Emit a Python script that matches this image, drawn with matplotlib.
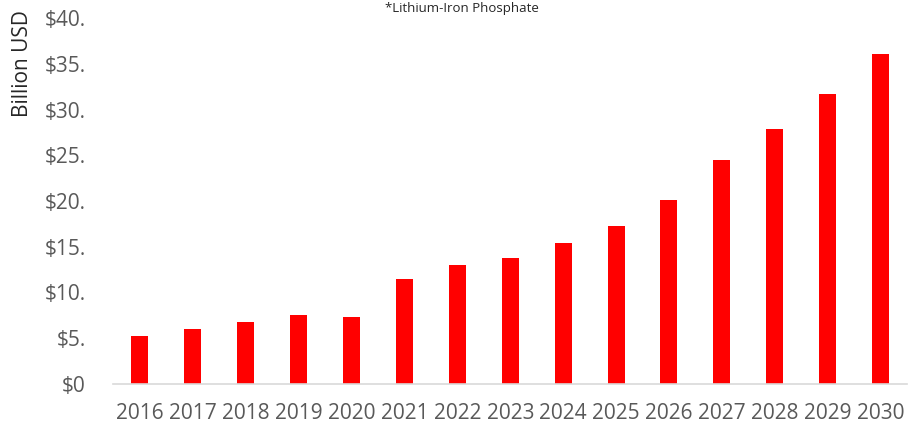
import matplotlib.pyplot as plt

years = ["2016", "2017", "2018", "2019", "2020", "2021", "2022", "2023",
         "2024", "2025", "2026", "2027", "2028", "2029", "2030"]
market = [5.2, 6.0, 6.8, 7.5, 7.3, 11.5, 13.0, 13.8, 15.4, 17.3,
          20.1, 24.5, 27.9, 31.7, 36.1]
ytick_vals = [0, 5, 10, 15, 20, 25, 30, 35, 40]
ytick_labels = ["$0", "$5.", "$10.", "$15.", "$20.", "$25.", "$30.", "$35.", "$40."]

plt.rcParams['font.family'] = ['Open Sans', 'DejaVu Sans']

fig = plt.figure(figsize=(9.08, 4.29), dpi=100)
ax = fig.add_axes([113.5 / 908, 1 - 384 / 429, (907 - 113.5) / 908, (384 - 18) / 429])

x = list(range(len(years)))
ax.bar(x, market, width=0.32, color="#FF0000")

ax.set_xlim(-0.5, len(years) - 0.5)
ax.set_ylim(0, 40)
ax.set_xticks(x)
ax.set_xticklabels(years, fontsize=15, color="#595959")
ax.set_yticks(ytick_vals)
ax.set_yticklabels(ytick_labels, fontsize=15, color="#595959")
ax.tick_params(axis='both', length=0)
ax.tick_params(axis='x', pad=14)
ax.tick_params(axis='y', pad=20)

for s in ["top", "right", "left"]:
    ax.spines[s].set_visible(False)
ax.spines["bottom"].set_color("#D9D9D9")
ax.spines["bottom"].set_linewidth(1.2)

fig.text(23 / 908, 1 - 64 / 429, "Billion USD", rotation=90, fontsize=15,
         color="#262626", ha="center", va="center")
fig.text(462 / 908, 1 - 12 / 429, "*Lithium-Iron Phosphate", fontsize=9.5,
         color="#262626", ha="center", va="baseline")

fig.savefig("out.png", dpi=100)
